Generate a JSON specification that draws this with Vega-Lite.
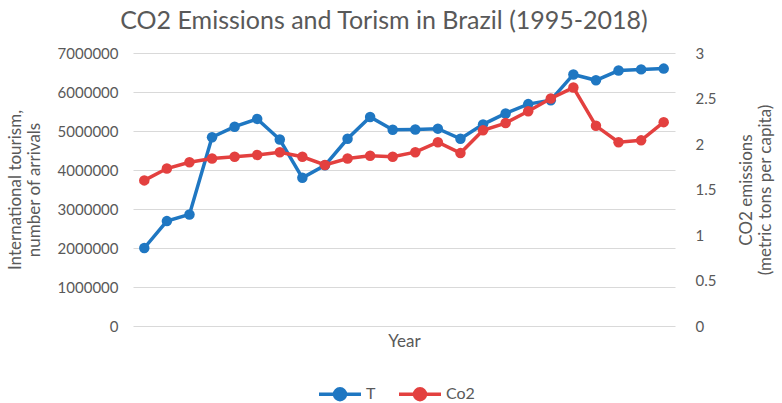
{
  "$schema": "https://vega.github.io/schema/vega-lite/v6.json",
  "width": 542,
  "height": 273,
  "autosize": "none",
  "padding": {"left": 133, "top": 53, "right": 107, "bottom": 77},
  "background": "white",
  "config": {
    "font": "Lato",
    "view": {"stroke": null},
    "axis": {
      "labelColor": "#595959",
      "titleColor": "#595959",
      "labelFontSize": 15,
      "titleFontSize": 17,
      "titleFontWeight": "normal",
      "gridColor": "#d9d9d9",
      "domain": false,
      "ticks": false
    },
    "legend": {"labelColor": "#595959", "labelFontSize": 16}
  },
  "title": {
    "text": "CO2 Emissions and Torism in Brazil (1995-2018)",
    "fontSize": 25,
    "fontWeight": "normal",
    "color": "#595959",
    "dx": -20,
    "offset": 12
  },
  "data": {
    "values": [
      {"Year": "1995", "T": 2000000, "Co2": 1.60},
      {"Year": "1996", "T": 2690000, "Co2": 1.73},
      {"Year": "1997", "T": 2860000, "Co2": 1.80},
      {"Year": "1998", "T": 4840000, "Co2": 1.84},
      {"Year": "1999", "T": 5110000, "Co2": 1.86},
      {"Year": "2000", "T": 5310000, "Co2": 1.88},
      {"Year": "2001", "T": 4780000, "Co2": 1.91},
      {"Year": "2002", "T": 3800000, "Co2": 1.86},
      {"Year": "2003", "T": 4120000, "Co2": 1.77},
      {"Year": "2004", "T": 4800000, "Co2": 1.84},
      {"Year": "2005", "T": 5360000, "Co2": 1.87},
      {"Year": "2006", "T": 5030000, "Co2": 1.86},
      {"Year": "2007", "T": 5040000, "Co2": 1.91},
      {"Year": "2008", "T": 5060000, "Co2": 2.02},
      {"Year": "2009", "T": 4800000, "Co2": 1.90},
      {"Year": "2010", "T": 5170000, "Co2": 2.15},
      {"Year": "2011", "T": 5450000, "Co2": 2.23},
      {"Year": "2012", "T": 5690000, "Co2": 2.36},
      {"Year": "2013", "T": 5790000, "Co2": 2.50},
      {"Year": "2014", "T": 6450000, "Co2": 2.62},
      {"Year": "2015", "T": 6300000, "Co2": 2.20},
      {"Year": "2016", "T": 6550000, "Co2": 2.02},
      {"Year": "2017", "T": 6580000, "Co2": 2.04},
      {"Year": "2018", "T": 6600000, "Co2": 2.24}
    ]
  },
  "encoding": {
    "x": {
      "field": "Year",
      "type": "ordinal",
      "scale": {"type": "point", "padding": 0.5},
      "axis": {"labels": false, "title": "Year", "titlePadding": 7, "grid": false}
    },
    "color": {
      "scale": {"domain": ["T", "Co2"], "range": ["#1f77c2", "#e3403f"]},
      "legend": {
        "title": null,
        "orient": "none",
        "direction": "horizontal",
        "legendX": 184,
        "legendY": 318,
        "symbolType": "M-1,0L1,0M-0.26,0A0.26,0.26 0 1,1 0.26,0A0.26,0.26 0 1,1 -0.26,0Z",
        "symbolSize": 1764,
        "symbolStrokeWidth": 3.5,
        "labelOffset": 3,
        "columnPadding": 16,
        "encode": {
          "symbols": {"update": {"fill": {"scale": "color", "field": "value"}}}
        }
      }
    }
  },
  "layer": [
    {
      "mark": {"type": "line", "strokeWidth": 3.5, "point": {"filled": true, "size": 110, "opacity": 1}},
      "encoding": {
        "y": {
          "field": "T",
          "type": "quantitative",
          "scale": {"domain": [0, 7000000]},
          "axis": {
            "values": [0, 1000000, 2000000, 3000000, 4000000, 5000000, 6000000, 7000000],
            "format": "d",
            "labelPadding": 15,
            "title": ["International tourism,", "number of arrivals"],
            "titlePadding": 14
          }
        },
        "color": {"datum": "T"}
      }
    },
    {
      "mark": {"type": "line", "strokeWidth": 3.5, "point": {"filled": true, "size": 110, "opacity": 1}},
      "encoding": {
        "y": {
          "field": "Co2",
          "type": "quantitative",
          "scale": {"domain": [0, 3]},
          "axis": {
            "orient": "right",
            "values": [0, 0.5, 1, 1.5, 2, 2.5, 3],
            "format": "~g",
            "grid": false,
            "labelPadding": 20,
            "title": ["CO2 emissions", "(metric tons per capita)"],
            "titleAngle": -90,
            "titlePadding": 21
          }
        },
        "color": {"datum": "Co2"}
      }
    }
  ],
  "resolve": {"scale": {"y": "independent"}}
}
